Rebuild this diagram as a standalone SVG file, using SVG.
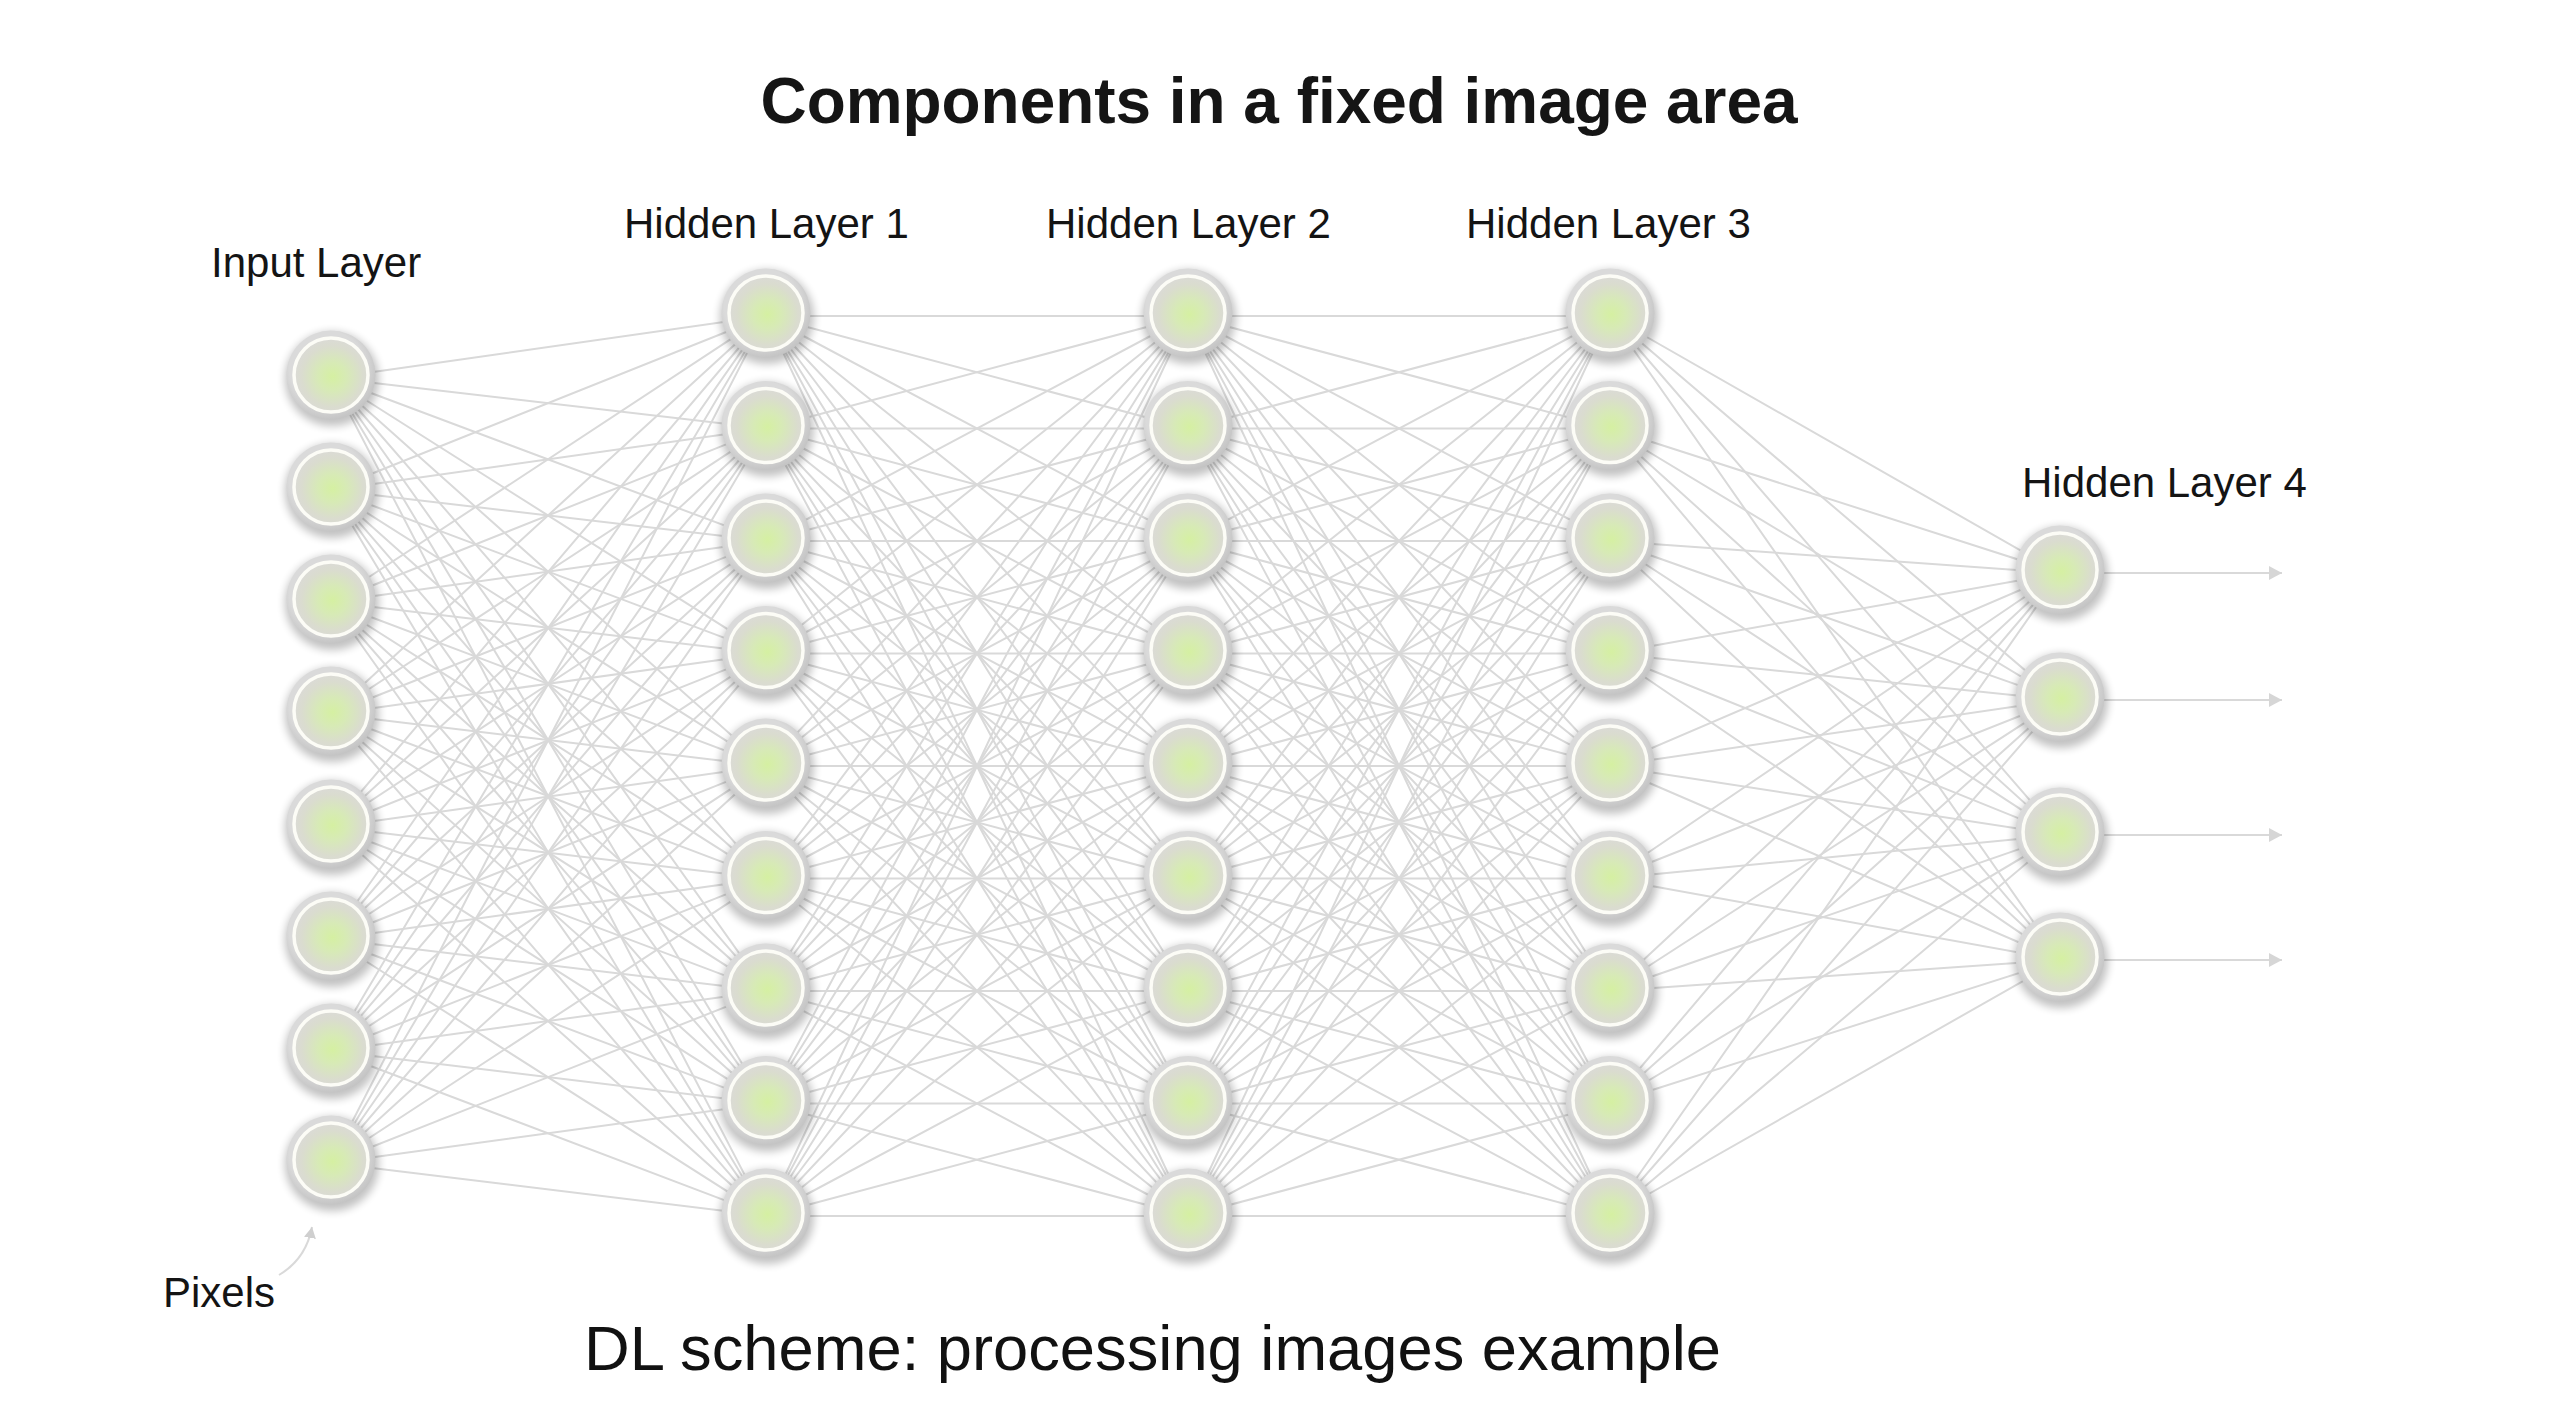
<svg xmlns="http://www.w3.org/2000/svg" xmlns:xlink="http://www.w3.org/1999/xlink" width="2560" height="1428" viewBox="0 0 2560 1428">
<style>
.conn path{stroke:#d9d9d9;stroke-width:2;fill:none}
.out{stroke:#dadada;stroke-width:2.2;fill:none}
.lbl{font-family:"Liberation Sans",Arial,sans-serif;font-size:42px;fill:#141414}
.title{font-family:"Liberation Sans",Arial,sans-serif;font-size:64px;font-weight:bold;fill:#151515}
.caption{font-family:"Liberation Sans",Arial,sans-serif;font-size:63px;fill:#111}
</style>
<defs>
<filter id="blur" x="-50%" y="-50%" width="200%" height="200%"><feGaussianBlur stdDeviation="4.5"/></filter>
<radialGradient id="ringGrad" cx="45%" cy="42%" r="60%">
<stop offset="0.7" stop-color="#dadada"/><stop offset="1" stop-color="#c2c2c2"/>
</radialGradient>
<radialGradient id="coreGrad" cx="52%" cy="52%" r="55%">
<stop offset="0" stop-color="#d5f0a2"/><stop offset="0.35" stop-color="#d7eab6"/><stop offset="0.75" stop-color="#dadccf"/><stop offset="1" stop-color="#dbdad8"/>
</radialGradient>
<marker id="arr" markerUnits="userSpaceOnUse" markerWidth="16" markerHeight="16" refX="13" refY="7" orient="auto"><path d="M0 0L13 7L0 14z" fill="#d6d6d6"/></marker>
<marker id="arrS" markerUnits="userSpaceOnUse" markerWidth="14" markerHeight="14" refX="11" refY="6" orient="auto"><path d="M0 0L11 6L0 12z" fill="#cfcfcf"/></marker>
<g id="nodeShape">
<circle cx="1" cy="4" r="47" fill="#000" opacity="0.24" filter="url(#blur)"/>
<circle r="44.5" fill="url(#ringGrad)"/>
<circle r="37" fill="url(#coreGrad)" stroke="#fcfcf6" stroke-width="3.5"/>
</g>
<g id="full9" stroke="#d9d9d9" stroke-width="2" fill="none">
<path d="M0 313L422 313M0 313L422 425.5M0 313L422 538M0 313L422 650.5M0 313L422 763M0 313L422 875.5M0 313L422 988M0 313L422 1100.5M0 313L422 1213"/>
<path d="M0 425.5L422 313M0 425.5L422 425.5M0 425.5L422 538M0 425.5L422 650.5M0 425.5L422 763M0 425.5L422 875.5M0 425.5L422 988M0 425.5L422 1100.5M0 425.5L422 1213"/>
<path d="M0 538L422 313M0 538L422 425.5M0 538L422 538M0 538L422 650.5M0 538L422 763M0 538L422 875.5M0 538L422 988M0 538L422 1100.5M0 538L422 1213"/>
<path d="M0 650.5L422 313M0 650.5L422 425.5M0 650.5L422 538M0 650.5L422 650.5M0 650.5L422 763M0 650.5L422 875.5M0 650.5L422 988M0 650.5L422 1100.5M0 650.5L422 1213"/>
<path d="M0 763L422 313M0 763L422 425.5M0 763L422 538M0 763L422 650.5M0 763L422 763M0 763L422 875.5M0 763L422 988M0 763L422 1100.5M0 763L422 1213"/>
<path d="M0 875.5L422 313M0 875.5L422 425.5M0 875.5L422 538M0 875.5L422 650.5M0 875.5L422 763M0 875.5L422 875.5M0 875.5L422 988M0 875.5L422 1100.5M0 875.5L422 1213"/>
<path d="M0 988L422 313M0 988L422 425.5M0 988L422 538M0 988L422 650.5M0 988L422 763M0 988L422 875.5M0 988L422 988M0 988L422 1100.5M0 988L422 1213"/>
<path d="M0 1100.5L422 313M0 1100.5L422 425.5M0 1100.5L422 538M0 1100.5L422 650.5M0 1100.5L422 763M0 1100.5L422 875.5M0 1100.5L422 988M0 1100.5L422 1100.5M0 1100.5L422 1213"/>
<path d="M0 1213L422 313M0 1213L422 425.5M0 1213L422 538M0 1213L422 650.5M0 1213L422 763M0 1213L422 875.5M0 1213L422 988M0 1213L422 1100.5M0 1213L422 1213"/>
</g>
</defs>
<rect width="2560" height="1428" fill="#fff"/>

<g id="connectors" class="conn" transform="translate(0,3)">
<g id="in-h1">
<path d="M331 375L766 313M331 375L766 425.5M331 375L766 538M331 375L766 650.5M331 375L766 763M331 375L766 875.5M331 375L766 988M331 375L766 1100.5M331 375L766 1213"/>
<path d="M331 487L766 313M331 487L766 425.5M331 487L766 538M331 487L766 650.5M331 487L766 763M331 487L766 875.5M331 487L766 988M331 487L766 1100.5M331 487L766 1213"/>
<path d="M331 599L766 313M331 599L766 425.5M331 599L766 538M331 599L766 650.5M331 599L766 763M331 599L766 875.5M331 599L766 988M331 599L766 1100.5M331 599L766 1213"/>
<path d="M331 711L766 313M331 711L766 425.5M331 711L766 538M331 711L766 650.5M331 711L766 763M331 711L766 875.5M331 711L766 988M331 711L766 1100.5M331 711L766 1213"/>
<path d="M331 824L766 313M331 824L766 425.5M331 824L766 538M331 824L766 650.5M331 824L766 763M331 824L766 875.5M331 824L766 988M331 824L766 1100.5M331 824L766 1213"/>
<path d="M331 936L766 313M331 936L766 425.5M331 936L766 538M331 936L766 650.5M331 936L766 763M331 936L766 875.5M331 936L766 988M331 936L766 1100.5M331 936L766 1213"/>
<path d="M331 1048L766 313M331 1048L766 425.5M331 1048L766 538M331 1048L766 650.5M331 1048L766 763M331 1048L766 875.5M331 1048L766 988M331 1048L766 1100.5M331 1048L766 1213"/>
<path d="M331 1160L766 313M331 1160L766 425.5M331 1160L766 538M331 1160L766 650.5M331 1160L766 763M331 1160L766 875.5M331 1160L766 988M331 1160L766 1100.5M331 1160L766 1213"/>
</g>
<use id="h1-h2" href="#full9" transform="translate(766,0)"/>
<use id="h2-h3" href="#full9" transform="translate(1188,0)"/>
<g id="h3-h4">
<path d="M1610 313L2060 570M1610 313L2060 697M1610 313L2060 832M1610 313L2060 957"/>
<path d="M1610 425.5L2060 570M1610 425.5L2060 697M1610 425.5L2060 832M1610 425.5L2060 957"/>
<path d="M1610 538L2060 570M1610 538L2060 697M1610 538L2060 832M1610 538L2060 957"/>
<path d="M1610 650.5L2060 570M1610 650.5L2060 697M1610 650.5L2060 832M1610 650.5L2060 957"/>
<path d="M1610 763L2060 570M1610 763L2060 697M1610 763L2060 832M1610 763L2060 957"/>
<path d="M1610 875.5L2060 570M1610 875.5L2060 697M1610 875.5L2060 832M1610 875.5L2060 957"/>
<path d="M1610 988L2060 570M1610 988L2060 697M1610 988L2060 832M1610 988L2060 957"/>
<path d="M1610 1100.5L2060 570M1610 1100.5L2060 697M1610 1100.5L2060 832M1610 1100.5L2060 957"/>
<path d="M1610 1213L2060 570M1610 1213L2060 697M1610 1213L2060 832M1610 1213L2060 957"/>
</g>
<g id="outputs">
<path class="out" d="M2104 570H2282" marker-end="url(#arr)"/>
<path class="out" d="M2104 697H2282" marker-end="url(#arr)"/>
<path class="out" d="M2104 832H2282" marker-end="url(#arr)"/>
<path class="out" d="M2104 957H2282" marker-end="url(#arr)"/>
</g>
<path id="pixels-arrow" d="M279 1272Q306 1256 312 1224" stroke="#cfcfcf" stroke-width="2.5" fill="none" marker-end="url(#arrS)"/>
</g>

<g id="input-layer">
<g id="in1" transform="translate(331,375)"><use href="#nodeShape"/></g>
<g id="in2" transform="translate(331,487)"><use href="#nodeShape"/></g>
<g id="in3" transform="translate(331,599)"><use href="#nodeShape"/></g>
<g id="in4" transform="translate(331,711)"><use href="#nodeShape"/></g>
<g id="in5" transform="translate(331,824)"><use href="#nodeShape"/></g>
<g id="in6" transform="translate(331,936)"><use href="#nodeShape"/></g>
<g id="in7" transform="translate(331,1048)"><use href="#nodeShape"/></g>
<g id="in8" transform="translate(331,1160)"><use href="#nodeShape"/></g>
</g>
<g id="hidden-1">
<g id="h1n1" transform="translate(766,313)"><use href="#nodeShape"/></g>
<g id="h1n2" transform="translate(766,425.5)"><use href="#nodeShape"/></g>
<g id="h1n3" transform="translate(766,538)"><use href="#nodeShape"/></g>
<g id="h1n4" transform="translate(766,650.5)"><use href="#nodeShape"/></g>
<g id="h1n5" transform="translate(766,763)"><use href="#nodeShape"/></g>
<g id="h1n6" transform="translate(766,875.5)"><use href="#nodeShape"/></g>
<g id="h1n7" transform="translate(766,988)"><use href="#nodeShape"/></g>
<g id="h1n8" transform="translate(766,1100.5)"><use href="#nodeShape"/></g>
<g id="h1n9" transform="translate(766,1213)"><use href="#nodeShape"/></g>
</g>
<g id="hidden-2">
<g id="h2n1" transform="translate(1188,313)"><use href="#nodeShape"/></g>
<g id="h2n2" transform="translate(1188,425.5)"><use href="#nodeShape"/></g>
<g id="h2n3" transform="translate(1188,538)"><use href="#nodeShape"/></g>
<g id="h2n4" transform="translate(1188,650.5)"><use href="#nodeShape"/></g>
<g id="h2n5" transform="translate(1188,763)"><use href="#nodeShape"/></g>
<g id="h2n6" transform="translate(1188,875.5)"><use href="#nodeShape"/></g>
<g id="h2n7" transform="translate(1188,988)"><use href="#nodeShape"/></g>
<g id="h2n8" transform="translate(1188,1100.5)"><use href="#nodeShape"/></g>
<g id="h2n9" transform="translate(1188,1213)"><use href="#nodeShape"/></g>
</g>
<g id="hidden-3">
<g id="h3n1" transform="translate(1610,313)"><use href="#nodeShape"/></g>
<g id="h3n2" transform="translate(1610,425.5)"><use href="#nodeShape"/></g>
<g id="h3n3" transform="translate(1610,538)"><use href="#nodeShape"/></g>
<g id="h3n4" transform="translate(1610,650.5)"><use href="#nodeShape"/></g>
<g id="h3n5" transform="translate(1610,763)"><use href="#nodeShape"/></g>
<g id="h3n6" transform="translate(1610,875.5)"><use href="#nodeShape"/></g>
<g id="h3n7" transform="translate(1610,988)"><use href="#nodeShape"/></g>
<g id="h3n8" transform="translate(1610,1100.5)"><use href="#nodeShape"/></g>
<g id="h3n9" transform="translate(1610,1213)"><use href="#nodeShape"/></g>
</g>
<g id="hidden-4">
<g id="h4n1" transform="translate(2060,570)"><use href="#nodeShape"/></g>
<g id="h4n2" transform="translate(2060,697)"><use href="#nodeShape"/></g>
<g id="h4n3" transform="translate(2060,832)"><use href="#nodeShape"/></g>
<g id="h4n4" transform="translate(2060,957)"><use href="#nodeShape"/></g>
</g>

<g id="labels">
<text class="title" x="1279" y="123" text-anchor="middle" textLength="1037" lengthAdjust="spacingAndGlyphs">Components in a fixed image area</text>
<text class="lbl" x="211" y="277">Input Layer</text>
<text class="lbl" x="624" y="238">Hidden Layer 1</text>
<text class="lbl" x="1046" y="238">Hidden Layer 2</text>
<text class="lbl" x="1466" y="238">Hidden Layer 3</text>
<text class="lbl" x="2022" y="497">Hidden Layer 4</text>
<text class="lbl" x="163" y="1307">Pixels</text>
<text class="caption" x="584" y="1370" textLength="1137" lengthAdjust="spacingAndGlyphs">DL scheme: processing images example</text>
</g>
</svg>
